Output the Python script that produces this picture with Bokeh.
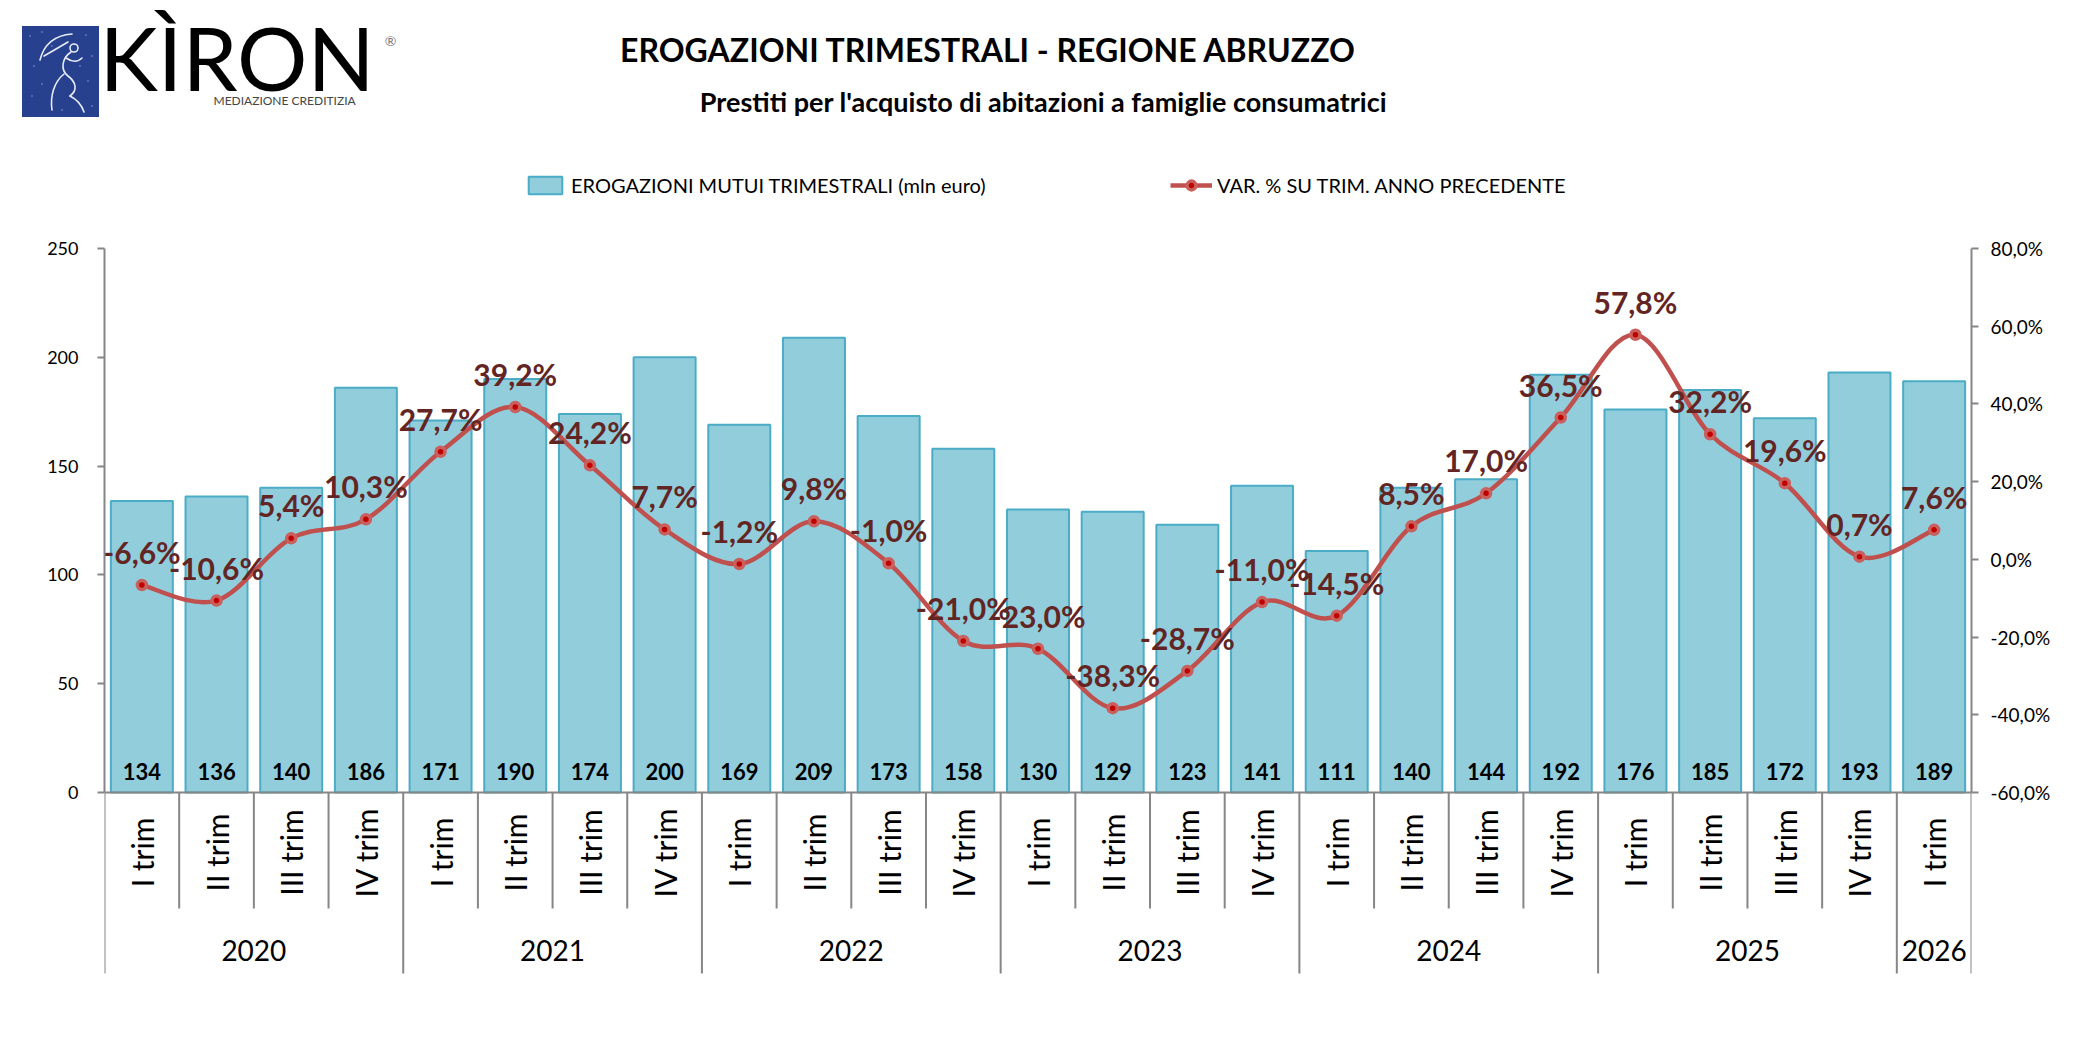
from bokeh.core.properties import value
from bokeh.embed import file_html
from bokeh.layouts import column
from bokeh.models import (ColumnDataSource, Div, FixedTicker, Legend,
                          LegendItem, LinearAxis, Range1d)
from bokeh.plotting import figure
from bokeh.resources import INLINE

FONT = "Lato"
GRAY = "#868686"

# dati
years = ["2020", "2021", "2022", "2023", "2024", "2025", "2026"]
quarters_per_year = [4, 4, 4, 4, 4, 4, 1]
quarter_names = ["I trim", "II trim", "III trim", "IV trim"]
erogazioni = [134, 136, 140, 186, 171, 190, 174, 200, 169, 209, 173, 158,
              130, 129, 123, 141, 111, 140, 144, 192, 176, 185, 172, 193, 189]
var_pct = [-6.6, -10.6, 5.4, 10.3, 27.7, 39.2, 24.2, 7.7, -1.2, 9.8, -1.0, -21.0,
           -23.0, -38.3, -28.7, -11.0, -14.5, 8.5, 17.0, 36.5, 57.8, 32.2, 19.6, 0.7, 7.6]
left_ticks = [0, 50, 100, 150, 200, 250]
right_ticks = [-60, -40, -20, 0, 20, 40, 60, 80]

quarters = []
for nq in quarters_per_year:
    quarters += quarter_names[:nq]
n = len(erogazioni)

# geometria in pixel della pagina
W, H = 2076, 1040
FRAME_L, FRAME_R = 104, 1971
FRAME_B = 1010
TOP_PX, ZERO_PX = 248, 792          # posizione di 250 e di 0
ppu = (ZERO_PX - TOP_PX) / 250.0
ppx = (FRAME_R - FRAME_L) / float(n)
y_hi = ZERO_PX / ppu
y_lo = -(FRAME_B - ZERO_PX) / ppu


def X(px):
    return (px - FRAME_L) / ppx


def Y(py):
    return (ZERO_PX - py) / ppu


def to_pct(v):
    return -60 + v * 140 / 250.0


def fmt_pct(v):
    return f"{v:.1f}".replace(".", ",") + "%"


p = figure(width=W, height=H, x_range=Range1d(0, n), y_range=Range1d(y_lo, y_hi),
           output_backend="svg", toolbar_location=None,
           x_axis_location=None, y_axis_location=None,
           min_border_left=FRAME_L, min_border_right=W - FRAME_R,
           min_border_top=0, min_border_bottom=H - FRAME_B)
p.outline_line_color = None
p.grid.grid_line_color = None
p.extra_y_ranges = {"pct": Range1d(to_pct(y_lo), to_pct(y_hi))}

# intestazione: marchio e titoli
p.text(x=[X(99)], y=[Y(56)], text=["KÌRON"], text_font=value(FONT), text_font_size="88px",
       text_color="black", text_baseline="middle")
p.text(x=[X(213)], y=[Y(100)], text=["MEDIAZIONE CREDITIZIA"], text_font=value(FONT),
       text_font_size="12px", text_color="#444444", text_baseline="middle")
p.text(x=[X(390)], y=[Y(40)], text=["®"], text_font=value(FONT), text_font_size="14px",
       text_color="#777777", text_align="center", text_baseline="middle")
p.text(x=[X(988)], y=[Y(49)], text=["EROGAZIONI TRIMESTRALI - REGIONE ABRUZZO"],
       text_font=value(FONT), text_font_size="32px", text_font_style="bold",
       text_align="center", text_baseline="middle", text_color="black")
p.text(x=[X(1043)], y=[Y(101)], text=["Prestiti per l'acquisto di abitazioni a famiglie consumatrici"],
       text_font=value(FONT), text_font_size="27px", text_font_style="bold",
       text_align="center", text_baseline="middle", text_color="black")

x_pos = [i + 0.5 for i in range(n)]
source = ColumnDataSource(dict(
    x=x_pos, top=erogazioni, pct=var_pct, quarter=quarters,
    bar_lbl=[str(v) for v in erogazioni], pct_lbl=[fmt_pct(v) for v in var_pct],
))

bars = p.vbar(x="x", top="top", width=0.83, source=source,
              fill_color="#92CDDC", line_color="#4BACC6", line_width=2)

p.text(x="x", y=0, text="bar_lbl", source=source, y_offset=-21,
       text_font=value(FONT), text_font_size="22px", text_font_style="bold",
       text_align="center", text_baseline="middle", text_color="black")

# linea smussata (catmull-rom -> bezier)
x0, y0, x1, y1, cx0, cy0, cx1, cy1 = [], [], [], [], [], [], [], []
for i in range(n - 1):
    xa, ya = x_pos[max(i - 1, 0)], var_pct[max(i - 1, 0)]
    xb, yb = x_pos[i], var_pct[i]
    xc, yc = x_pos[i + 1], var_pct[i + 1]
    xd, yd = x_pos[min(i + 2, n - 1)], var_pct[min(i + 2, n - 1)]
    x0.append(xb); y0.append(yb); x1.append(xc); y1.append(yc)
    cx0.append(xb + (xc - xa) / 6.0); cy0.append(yb + (yc - ya) / 6.0)
    cx1.append(xc - (xd - xb) / 6.0); cy1.append(yc - (yd - yb) / 6.0)

curve = p.bezier(x0=x0, y0=y0, x1=x1, y1=y1, cx0=cx0, cy0=cy0, cx1=cx1, cy1=cy1,
                 line_color="#C0504D", line_width=4.5, y_range_name="pct")
dots = p.scatter(x="x", y="pct", source=source, size=9, fill_color="#C00000",
                 line_color="#C9605D", line_width=3.5, y_range_name="pct")

p.text(x="x", y="pct", text="pct_lbl", source=source, y_range_name="pct", y_offset=-33,
       text_font=value(FONT), text_font_size="30px", text_font_style="bold",
       text_align="center", text_baseline="middle", text_color="#632523")

# asse delle categorie
p.segment(x0=0, x1=n, y0=0, y1=0, line_color=GRAY, line_width=2)
year_edges = [0]
for nq in quarters_per_year:
    year_edges.append(year_edges[-1] + nq)
inner = [i for i in range(1, n) if i not in year_edges]
p.segment(x0=inner, x1=inner, y0=0, y1=Y(908), line_color=GRAY, line_width=2)
p.segment(x0=year_edges, x1=year_edges, y0=0, y1=Y(973), line_color=GRAY, line_width=2)

p.text(x="x", y=Y(852), text="quarter", source=source, angle=1.5708,
       text_font=value(FONT), text_font_size="30px", text_align="center",
       text_baseline="middle", text_color="black")
year_x = [(year_edges[k] + year_edges[k + 1]) / 2.0 for k in range(len(years))]
p.text(x=year_x, y=Y(950), text=years,
       text_font=value(FONT), text_font_size="28px", text_align="center",
       text_baseline="middle", text_color="black")

# assi
left_axis = LinearAxis(ticker=FixedTicker(ticks=left_ticks), bounds=(0, 250))
right_axis = LinearAxis(ticker=FixedTicker(ticks=right_ticks), bounds=(-60, 80), y_range_name="pct",
                        major_label_overrides={t: fmt_pct(t) for t in right_ticks})
for ax, standoff, fsize in ((left_axis, 19, "18px"), (right_axis, 12, "19px")):
    ax.axis_line_color = GRAY
    ax.axis_line_width = 2
    ax.major_tick_line_color = GRAY
    ax.major_tick_line_width = 2
    ax.major_tick_in = 0
    ax.major_tick_out = 7
    ax.minor_tick_line_color = None
    ax.major_label_text_font = FONT
    ax.major_label_text_font_size = fsize
    ax.major_label_text_color = "black"
    ax.major_label_standoff = standoff
p.add_layout(left_axis, "left")
p.add_layout(right_axis, "right")

# legende
leg1 = Legend(items=[LegendItem(label="EROGAZIONI MUTUI TRIMESTRALI (mln euro)", renderers=[bars])],
              location=(420, FRAME_B - 197))
leg2 = Legend(items=[LegendItem(label="VAR. % SU TRIM. ANNO PRECEDENTE", renderers=[curve, dots])],
              location=(1066, FRAME_B - 197))
for lg in (leg1, leg2):
    lg.orientation = "horizontal"
    lg.padding = 0
    lg.margin = 0
    lg.border_line_color = None
    lg.background_fill_alpha = 0
    lg.glyph_width = 42
    lg.glyph_height = 22
    lg.label_standoff = 5
    lg.label_text_font = FONT
    lg.label_text_font_size = "20px"
    lg.label_text_color = "black"
    lg.label_height = 22
    p.add_layout(lg)

# riquadro blu del marchio (fuori dall'area del grafico)
stars = "".join(f'<circle cx="{cx}" cy="{cy}" r="0.7" fill="#9fb0dd"/>'
                for cx, cy in [(8, 10), (20, 6), (64, 9), (70, 30), (12, 40), (66, 55),
                               (10, 70), (70, 80), (40, 84), (30, 20), (58, 40), (20, 58)])
logo_svg = (
    '<svg width="77" height="91" xmlns="http://www.w3.org/2000/svg">'
    '<rect width="77" height="91" fill="#27418f"/>' + stars +
    '<g fill="none" stroke="#e6ecf8" stroke-width="1.6" stroke-linecap="round">'
    '<path d="M 18 34 Q 24 10 50 8"/>'
    '<path d="M 22 30 L 46 16"/>'
    '<circle cx="52" cy="22" r="4"/>'
    '<path d="M 49 26 C 40 32 38 44 46 50 C 54 56 56 64 48 70"/>'
    '<path d="M 42 48 C 32 56 28 70 30 84"/>'
    '<path d="M 48 70 C 56 74 60 80 62 86"/>'
    '<path d="M 44 32 C 50 36 56 36 60 32"/>'
    '</g></svg>'
)
logo = Div(text=logo_svg, width=77, height=91,
           styles={"position": "absolute", "left": "17px", "top": "21px"})

open("out.html", "w").write(file_html(column(p, logo), INLINE))
